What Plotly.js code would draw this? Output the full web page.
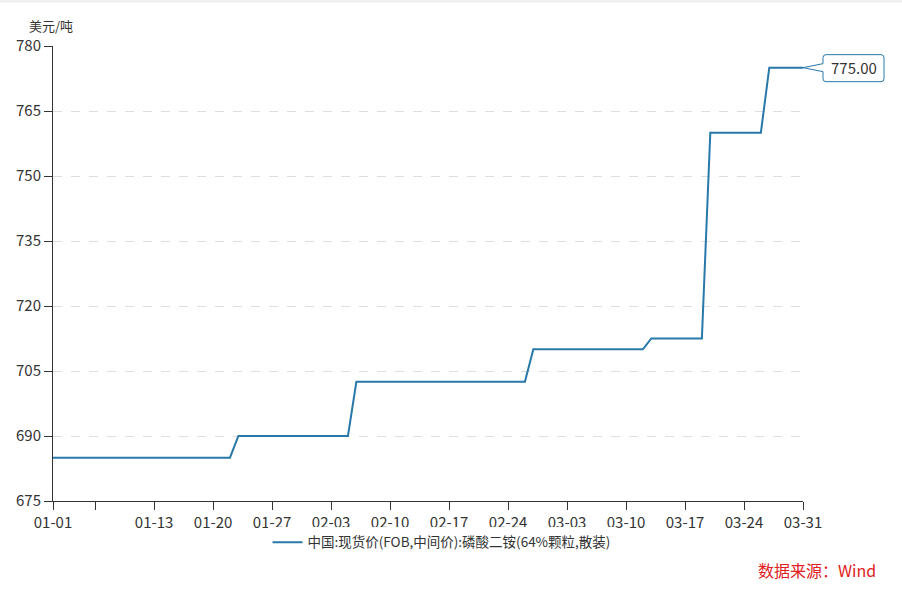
<!DOCTYPE html>
<html>
<head>
<meta charset="utf-8">
<script src="https://cdn.plot.ly/plotly-3.0.1.min.js"></script>
<style>html,body{margin:0;padding:0;background:#fff;}#chart{width:902px;height:589px;}</style>
</head>
<body>
<div id="chart"></div>
<script>
// Observation dates (price held between listed dates) and values, USD/ton
const dates = ["2025-01-01","2025-01-22","2025-01-23","2025-02-05","2025-02-06","2025-02-26","2025-02-27","2025-03-12","2025-03-13","2025-03-19","2025-03-20","2025-03-26","2025-03-27","2025-03-31"];
const prices = [685, 685, 690, 690, 702.5, 702.5, 710, 710, 712.5, 712.5, 760, 760, 775, 775];
const seriesName = "中国:现货价(FOB,中间价):磷酸二铵(64%颗粒,散装)";
const tickDates = ["2025-01-01","2025-01-06","2025-01-13","2025-01-20","2025-01-27","2025-02-03","2025-02-10","2025-02-17","2025-02-24","2025-03-03","2025-03-10","2025-03-17","2025-03-24","2025-03-31"];
const tickLabels = ["01-01","","01-13","01-20","01-27","02-03","02-10","02-17","02-24","03-03","03-10","03-17","03-24","03-31"];
const yTicks = [675, 690, 705, 720, 735, 750, 765, 780];
const unitLabel = "美元/吨";
const sourceLabel = "数据来源：Wind";

const FONT = "'Noto Sans CJK SC', 'Noto Sans', sans-serif";
const lineColor = "#2878a9";
const lastIdx = dates.length - 1;
const xRange = ["2025-01-01", "2025-03-31"];
const yRange = [675, 780];

// paper position of last point (for the callout bubble, which must not be clipped)
const t0 = Date.parse(xRange[0]), t1 = Date.parse(xRange[1]);
const lastXp = (Date.parse(dates[lastIdx]) - t0) / (t1 - t0);
const lastYp = (prices[lastIdx] - yRange[0]) / (yRange[1] - yRange[0]);

const trace = {
  x: dates, y: prices, type: "scatter", mode: "lines", name: seriesName,
  line: {color: lineColor, width: 2}, hoverinfo: "skip"
};

const bubblePath = "M 20 4 L 20 10 Q 20 13 23 13 L 78 13 Q 81 13 81 10 L 81 -11 Q 81 -14 78 -14 L 23 -14 Q 20 -14 20 -11 L 20 -4 L 0 0 Z";

const layout = {
  width: 902, height: 589,
  margin: {l: 53, r: 99, t: 46, b: 88},
  paper_bgcolor: "#fff", plot_bgcolor: "#fff",
  font: {family: FONT, size: 14, color: "#333"},
  showlegend: true,
  legend: {orientation: "h", x: 0.518, xanchor: "center", y: -0.057, yanchor: "top",
           font: {family: FONT, size: 13.5, color: "#333"}, itemwidth: 30},
  xaxis: {
    type: "date", range: xRange,
    tickmode: "array", tickvals: tickDates, ticktext: tickLabels,
    showgrid: false, zeroline: false, showline: true, linecolor: "#333", linewidth: 1,
    ticks: "outside", ticklen: 8, tickcolor: "#333", tickwidth: 1,
    tickfont: {family: FONT, size: 15, color: "#333"}, fixedrange: true
  },
  yaxis: {
    range: yRange, tickmode: "array", tickvals: yTicks, ticktext: yTicks.map(String),
    showgrid: true, gridcolor: "#dedede", griddash: "dash", gridwidth: 1,
    zeroline: false, showline: true, linecolor: "#333", linewidth: 1,
    ticks: "outside", ticklen: 8, tickcolor: "#333", tickwidth: 1, ticklabelstandoff: 0,
    tickfont: {family: FONT, size: 15, color: "#333"}, fixedrange: true
  },
  shapes: [
    {type: "rect", xref: "paper", yref: "paper", x0: -0.08, x1: 1.14, y0: 1.095, y1: 1.108,
     line: {width: 0}, fillcolor: "#f0f0f0", layer: "below"},
    {type: "rect", xref: "paper", yref: "paper", x0: -0.08, x1: -0.0735, y0: 1.095, y1: 1.108,
     line: {width: 0}, fillcolor: "#1ab0d0", layer: "below"},
    {type: "path", xref: "paper", yref: "paper", xsizemode: "pixel", ysizemode: "pixel",
     xanchor: lastXp, yanchor: lastYp, path: bubblePath,
     line: {color: lineColor, width: 1}, fillcolor: "#fff", layer: "above"}
  ],
  annotations: [
    {xref: "paper", yref: "paper", x: -0.035, y: 1.044, xanchor: "left", yanchor: "middle",
     text: unitLabel, showarrow: false, font: {family: FONT, size: 13, color: "#333"}},
    {xref: "paper", yref: "paper", x: 1.1, y: -0.152, xanchor: "right", yanchor: "middle",
     text: sourceLabel, showarrow: false, font: {family: FONT, size: 16, color: "#e02020"}},
    {x: dates[lastIdx], y: prices[lastIdx], xref: "x", yref: "y",
     text: prices[lastIdx].toFixed(2), showarrow: true, arrowhead: 0, arrowwidth: 0.1,
     arrowcolor: "rgba(0,0,0,0)", ax: 50.5, ay: 0, xanchor: "center", yanchor: "middle",
     font: {family: FONT, size: 15, color: "#333"}}
  ]
};

Plotly.newPlot("chart", [trace], layout, {displayModeBar: false, staticPlot: true});
</script>
</body>
</html>
